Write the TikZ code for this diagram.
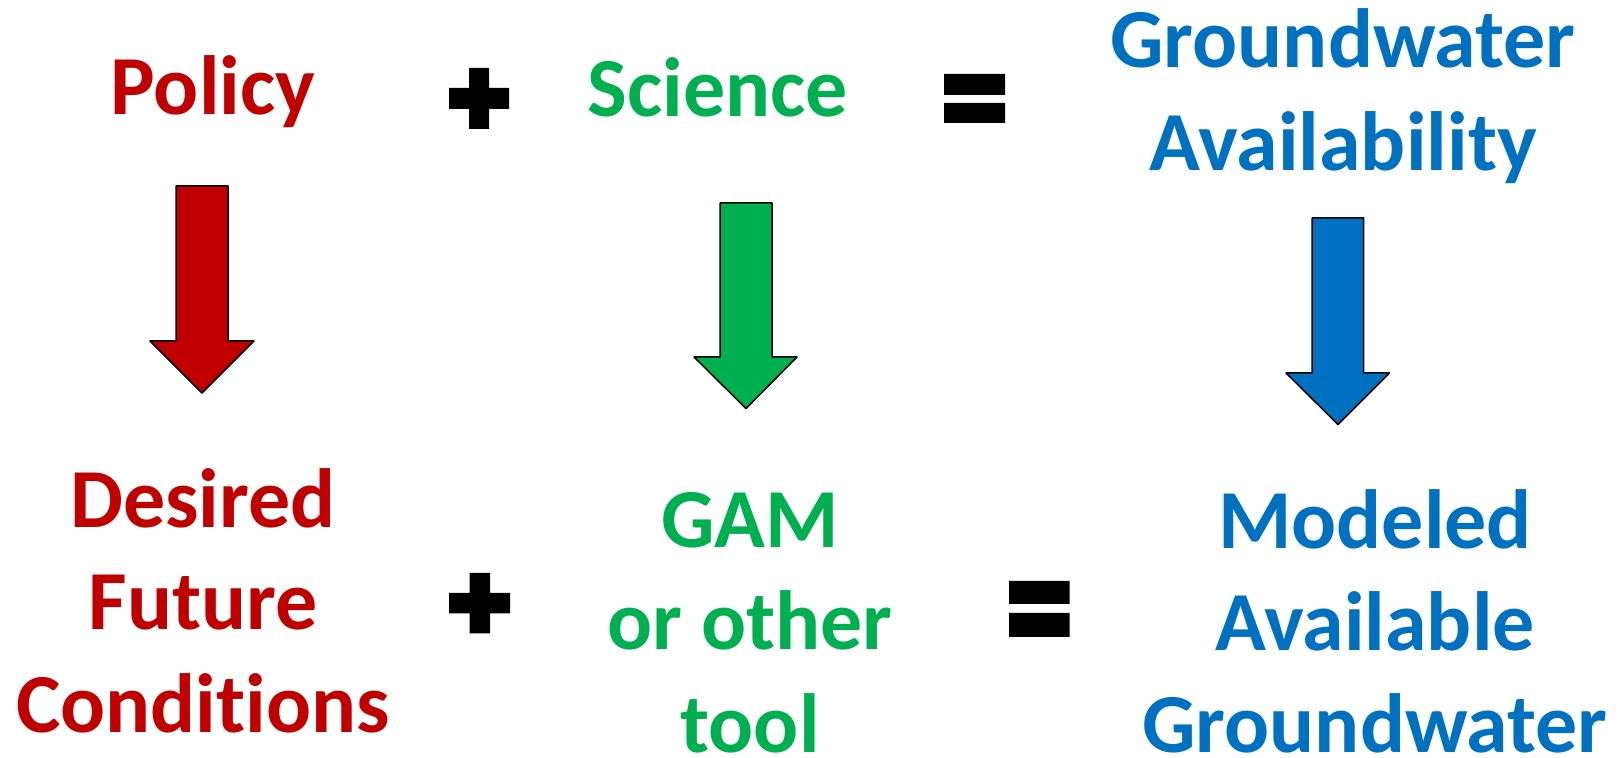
\documentclass[tikz,border=0pt]{standalone}
\usepackage{fontspec}
\setmainfont[Ligatures={NoCommon}]{Carlito}
\usepackage{tkz-euclide}
\tikzset{>=stealth}
\definecolor{polred}{HTML}{C00000}
\definecolor{scigreen}{HTML}{00B050}
\definecolor{gwblue}{HTML}{0070C0}
\tikzset{word/.style={inner sep=0pt, anchor=base, align=center,
    font=\fontsize{42}{51.25}\selectfont\bfseries},
  blockarrow/.style={draw=black, line width=0.75pt},
  sign/.style={fill=black, draw=none}}

\begin{document}
\begin{tikzpicture}[x=0.5pt, y=-0.5pt]
\useasboundingbox (0,0) rectangle (1623,758);
% top line (base = last line)
\node[word, text=polred] (pol) at (213,115) {Policy};
\node[word, text=scigreen] (sci) at (718,117) {Science};
\node[word, text=gwblue] (gwa) at (1343,170.5) {Groundwater\\Availability};
% bottom line
\node[word, text=polred] (dfc) at (203,732.5) {Desired\\Future\\Conditions};
\node[word, text=scigreen] (gam) at (750,752.5) {GAM\\or other\\tool};
\node[word, text=gwblue] (mag) at (1375,753) {Modeled\\Available\\Groundwater};
% plus and equals signs
\tkzDefPoints{469/68/P1, 489/129/P2, 449/88/P3, 509/109/P4}
\tkzDefPoints{469.5/573/P5, 490/633.5/P6, 449/593/P7, 510/613.5/P8}
\tkzDefPoints{944/74/Q1, 1005/95/Q2, 944/103/Q3, 1005/123/Q4}
\tkzDefPoints{1009/581/Q5, 1069.5/604/Q6, 1009/613/Q7, 1069.5/637/Q8}
\fill[sign] (P1) rectangle (P2) (P3) rectangle (P4);
\fill[sign] (P5) rectangle (P6) (P7) rectangle (P8);
\fill[sign] (Q1) rectangle (Q2) (Q3) rectangle (Q4);
\fill[sign] (Q5) rectangle (Q6) (Q7) rectangle (Q8);
% block arrows
\tkzDefPoints{176/186/Ra, 228/186/Rb, 228/341/Rc, 254/341/Rd, 202/393/Re, 150/341/Rf, 176/341/Rg}
\tkzDrawPolygon[blockarrow, fill=polred](Ra,Rb,Rc,Rd,Re,Rf,Rg)
\tkzDefPoints{720/203/Ga, 772/203/Gb, 772/357/Gc, 797/357/Gd, 746/408.5/Ge, 694/357/Gf, 720/357/Gg}
\tkzDrawPolygon[blockarrow, fill=scigreen](Ga,Gb,Gc,Gd,Ge,Gf,Gg)
\tkzDefPoints{1312/218/Ba, 1363.5/218/Bb, 1363.5/373/Bc, 1389.5/373/Bd, 1338/424.5/Be, 1286/373/Bf, 1312/373/Bg}
\tkzDrawPolygon[blockarrow, fill=gwblue](Ba,Bb,Bc,Bd,Be,Bf,Bg)
\end{tikzpicture}
\end{document}
